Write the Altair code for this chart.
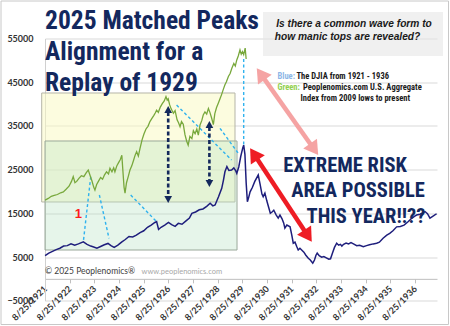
import math
import altair as alt
import pandas as pd

# ---------------- data ----------------
blue_year = [1921.65, 1921.80, 1921.95, 1922.10, 1922.25, 1922.40, 1922.55, 1922.70, 1922.85, 1923.00,
             1923.20, 1923.35, 1923.50, 1923.62, 1923.75, 1923.90, 1924.05, 1924.20, 1924.32, 1924.45,
             1924.60, 1924.75, 1924.90, 1925.05, 1925.20, 1925.35, 1925.50, 1925.65, 1925.80, 1925.95,
             1926.10, 1926.17, 1926.25, 1926.35, 1926.50, 1926.65, 1926.78, 1926.92, 1927.05, 1927.20,
             1927.35, 1927.50, 1927.60, 1927.75, 1927.90, 1928.05, 1928.20, 1928.34, 1928.45, 1928.54,
             1928.68, 1928.81, 1928.88, 1928.94, 1929.02, 1929.10, 1929.21, 1929.30, 1929.38, 1929.42,
             1929.50, 1929.58, 1929.66, 1929.70, 1929.75, 1929.80, 1929.85, 1929.90, 1929.96, 1930.05,
             1930.15, 1930.29, 1930.36, 1930.44, 1930.49, 1930.56, 1930.64, 1930.72, 1930.78, 1930.85,
             1930.92, 1931.02, 1931.10, 1931.17, 1931.25, 1931.32, 1931.37, 1931.45, 1931.52, 1931.58,
             1931.65, 1931.71, 1931.78, 1931.85, 1931.91, 1931.98, 1932.05, 1932.14, 1932.22, 1932.32,
             1932.40, 1932.50, 1932.57, 1932.63, 1932.68, 1932.76, 1932.86, 1932.95, 1933.05, 1933.15,
             1933.22, 1933.30, 1933.38, 1933.47, 1933.55, 1933.62, 1933.68, 1933.75, 1933.85, 1933.95,
             1934.05, 1934.15, 1934.28, 1934.40, 1934.55, 1934.68, 1934.80, 1934.95, 1935.09, 1935.20,
             1935.35, 1935.50, 1935.62, 1935.75, 1935.90, 1936.05, 1936.20, 1936.35, 1936.50, 1936.62,
             1936.71, 1936.85, 1936.95, 1937.05, 1937.15, 1937.25, 1937.33, 1937.42, 1937.52]
blue_value = [5300, 5900, 6300, 6700, 7000, 7500, 7600, 8000, 7700, 8000,
              8450, 7900, 7500, 7300, 7000, 7400, 7800, 8100, 7600, 7200,
              7700, 8400, 9000, 9700, 9600, 10000, 10600, 11000, 11800, 12300,
              12900, 13100, 11300, 11800, 12300, 12900, 12400, 12000, 12700, 12500,
              13200, 13900, 15000, 15300, 15800, 16000, 16600, 17300, 16700, 16900,
              18800, 20700, 22600, 24500, 25700, 24800, 24900, 25400, 24700, 24150,
              25600, 28000, 29900, 30600, 28500, 22000, 17650, 18600, 19900, 20900,
              22300, 23760, 21800, 19400, 18800, 19600, 17800, 16200, 15000, 15300,
              15700, 14600, 13900, 14600, 13800, 12800, 11600, 12300, 12100, 11900,
              10000, 8150, 8400, 7400, 6600, 7000, 6600, 6100, 5400, 4700,
              4300, 3600, 4300, 5400, 5900, 5300, 4950, 5100, 4800, 4500,
              4600, 5900, 7200, 8150, 7700, 7900, 7500, 7900, 8200, 8000,
              8300, 8000, 7600, 7700, 7350, 7600, 7800, 8000, 8150, 8400,
              9300, 10000, 10400, 11000, 11900, 12000, 12300, 13000, 13800, 14300,
              14600, 14800, 15100, 15400, 14900, 13900, 14200, 14500, 14900]

green_year = [1921.65, 1921.78, 1921.90, 1922.02, 1922.15, 1922.28, 1922.39, 1922.50, 1922.62, 1922.72,
              1922.79, 1922.86, 1922.93, 1923.02, 1923.12, 1923.22, 1923.32, 1923.40, 1923.47, 1923.55,
              1923.62, 1923.67, 1923.74, 1923.81, 1923.90, 1923.98, 1924.06, 1924.14, 1924.22, 1924.28,
              1924.36, 1924.43, 1924.48, 1924.56, 1924.64, 1924.70, 1924.76, 1924.80, 1924.85, 1924.89,
              1924.95, 1925.02, 1925.09, 1925.16, 1925.24, 1925.30, 1925.36, 1925.43, 1925.50, 1925.58,
              1925.66, 1925.74, 1925.82, 1925.90, 1925.98, 1926.06, 1926.12, 1926.17, 1926.24, 1926.32,
              1926.40, 1926.48, 1926.55, 1926.60, 1926.64, 1926.70, 1926.76, 1926.85, 1926.92, 1927.00,
              1927.06, 1927.12, 1927.18, 1927.25, 1927.32, 1927.39, 1927.45, 1927.52, 1927.60, 1927.66,
              1927.73, 1927.80, 1927.86, 1927.93, 1928.00, 1928.06, 1928.13, 1928.20, 1928.27, 1928.33,
              1928.40, 1928.47, 1928.53, 1928.60, 1928.67, 1928.74, 1928.80, 1928.87, 1928.94, 1929.00,
              1929.08, 1929.15, 1929.22, 1929.30, 1929.36, 1929.42, 1929.48, 1929.55, 1929.60, 1929.65,
              1929.70, 1929.76, 1929.80]
green_value = [18000, 18400, 18900, 19100, 19300, 19700, 19900, 20500, 21200, 22300,
               23400, 22000, 22300, 23000, 23600, 23400, 24300, 24900, 23700, 22400,
               21000, 20300, 21600, 22300, 23200, 22800, 23800, 24500, 24000, 25300,
               24500, 25400, 24500, 25900, 26700, 27300, 28300, 25000, 21000, 19600,
               22000, 23400, 24900, 25800, 27200, 28300, 29100, 28100, 29900, 31800,
               33200, 34300, 34900, 36000, 36700, 37400, 38000, 38600, 38100, 39300,
               40100, 40700, 41700, 40900, 41200, 39800, 38900, 37900, 38500, 36400,
               35700, 34800, 36000, 35400, 33000, 31500, 30600, 32600, 32100, 33900,
               33200, 34300, 32900, 35200, 36200, 37500, 38200, 37700, 39000, 38100,
               36800, 35300, 37800, 39200, 40200, 41200, 42100, 43300, 44400, 45100,
               46300, 47000, 48200, 49300, 48700, 50100, 51000, 52400, 51400, 52000,
               51300, 52800, 50300]

tick_years = list(range(1921, 1937))
y_ticks = [-5000, 5000, 15000, 25000, 35000, 45000, 55000]

# annotation anchors (data units)
rect_x1 = [1921.512, 1921.646]
rect_x2 = [1929.348, 1929.430]
rect_y1 = [17590, 6600]
rect_y2 = [42530, 31545]

link_x1 = [1923.50, 1923.85, 1925.12, 1926.98, 1928.74, 1929.70]
link_y1 = [23370, 19190, 19190, 39780, 34450, 50300]
link_x2 = [1923.20, 1924.24, 1926.17, 1929.21, 1929.48, 1929.70]
link_y2 = [8500, 9280, 13080, 27200, 28730, 30600]

peak_arrow_x = [1926.64, 1928.31]
peak_arrow_top = [39550, 36120]
peak_arrow_bottom = [17360, 21020]

big_x1 = [1930.23, 1929.96]
big_y1 = [48180, 29880]
big_x2 = [1932.72, 1932.46]
big_y2 = [28340, 8500]
big_colors = ["#f5a3a3", "#ee1c24"]

# ---------------- geometry ----------------
X0, X1 = 1921.646, 1937.536
Y0, Y1 = -5000, 55000
W, H = 392, 262.2
PX = W / (X1 - X0)
PY = H / (Y1 - Y0)
LEFT, TOP = 45, 38.5

xs = alt.Scale(domain=[X0, X1], nice=False, zero=False)
ys = alt.Scale(domain=[Y0, Y1], nice=False, zero=False)

xaxis = alt.Axis(values=[y + 0.646 for y in tick_years],
                 labelExpr="'8/25/' + floor(datum.value)",
                 labelAngle=-45, labelAlign="right", labelBaseline="middle",
                 labelFont="Lato", labelFontSize=9, labelFontWeight="bold", labelColor="#333333",
                 labelPadding=4, tickSize=4, tickColor="#bfbfbf", domainColor="#bfbfbf",
                 grid=False, title=None, offset=-(0 - Y0) * PY, labelOverlap=False)
yaxis = alt.Axis(values=y_ticks, format="d", labelFont="Lato", labelFontSize=9,
                 labelFontWeight="bold", labelColor="#333333", labelPadding=12, tickSize=0,
                 domainColor="#d0d0d0", gridColor="#d9d9d9", title=None)


def X(f, **k):
    return alt.X(f, type="quantitative", scale=xs, axis=xaxis, **k)


def Y(f, **k):
    return alt.Y(f, type="quantitative", scale=ys, axis=yaxis, **k)


HEAD = "M0,0L0.6,1L-0.6,1Z"
NHEAD = "M0,0L0.55,1L-0.55,1Z"

# background rectangles
rects = pd.DataFrame({"x": rect_x1, "x2": rect_x2, "y": rect_y1, "y2": rect_y2,
                      "fill": ["#f9f9c0", "#b8e2c3"], "op": [0.5, 0.35],
                      "stroke": ["#b5b5a8", "#9aa89a"]})
rect_layer = alt.Chart(rects).mark_rect(strokeWidth=1).encode(
    x=X("x"), x2="x2", y=Y("y"), y2="y2",
    fill=alt.Fill("fill:N", scale=None), stroke=alt.Stroke("stroke:N", scale=None),
    fillOpacity=alt.FillOpacity("op:Q", scale=None))

links = pd.DataFrame({"x": link_x1, "y": link_y1, "x2": link_x2, "y2": link_y2})
link_layer = alt.Chart(links).mark_rule(color="#2fb2ee", strokeWidth=1.4, strokeDash=[3, 2.5]).encode(
    x=X("x"), x2="x2", y=Y("y"), y2="y2")

green_df = pd.DataFrame({"x": green_year, "v": green_value})
green_layer = alt.Chart(green_df).mark_line(color="#78a83c", strokeWidth=1.3).encode(x=X("x"), y=Y("v"))

blue_df = pd.DataFrame({"x": blue_year, "v": blue_value})
blue_layer = alt.Chart(blue_df).mark_line(color="#1e1e7c", strokeWidth=1.5).encode(x=X("x"), y=Y("v"))

# navy dashed double arrows
NH = 7
shaft = pd.DataFrame({"x": peak_arrow_x,
                      "y": [t - (NH - 1) / PY for t in peak_arrow_top],
                      "y2": [b + (NH - 1) / PY for b in peak_arrow_bottom]})
shaft_layer = alt.Chart(shaft).mark_rule(color="#14295c", strokeWidth=2.6, strokeDash=[4, 2.5]).encode(
    x=X("x"), y=Y("y"), y2="y2")
nheads = pd.DataFrame({"x": peak_arrow_x * 2,
                       "y": peak_arrow_top + peak_arrow_bottom,
                       "a": [0, 0, 180, 180]})
nhead_layer = alt.Chart(nheads).mark_point(shape=NHEAD, filled=True, color="#14295c", opacity=1,
                                           size=(2 * NH) ** 2, strokeWidth=0).encode(
    x=X("x"), y=Y("y"), angle=alt.Angle("a:Q", scale=None))

# big pink / red double arrows
BH = 14
brow, hrow = [], []
for i in range(2):
    dx = (big_x2[i] - big_x1[i]) * PX
    dy = -(big_y2[i] - big_y1[i]) * PY
    ln = math.hypot(dx, dy)
    ux, uy = dx / ln, dy / ln
    ang = math.degrees(math.atan2(dx, -dy)) % 360
    cut = BH - 2
    brow.append({"x": big_x1[i] + ux * cut / PX, "y": big_y1[i] - uy * cut / PY,
                 "x2": big_x2[i] - ux * cut / PX, "y2": big_y2[i] + uy * cut / PY,
                 "c": big_colors[i]})
    hrow.append({"x": big_x2[i], "y": big_y2[i], "a": ang, "c": big_colors[i]})
    hrow.append({"x": big_x1[i], "y": big_y1[i], "a": (ang + 180) % 360, "c": big_colors[i]})
bshaft_layer = alt.Chart(pd.DataFrame(brow)).mark_rule(strokeWidth=4.5).encode(
    x=X("x"), x2="x2", y=Y("y"), y2="y2", color=alt.Color("c:N", scale=None))
bhead_layer = alt.Chart(pd.DataFrame(hrow)).mark_point(shape=HEAD, filled=True, opacity=1,
                                                        size=(2 * BH) ** 2, strokeWidth=0).encode(
    x=X("x"), y=Y("y"), angle=alt.Angle("a:Q", scale=None), color=alt.Color("c:N", scale=None))


# ---------------- text (pixel positions on the page) ----------------
def txt(s, px, py, size, color, font, weight="normal", align="left", style="normal"):
    return alt.Chart(pd.DataFrame({"t": [s]})).mark_text(
        align=align, baseline="alphabetic", font=font, fontSize=size, fontWeight=weight,
        fontStyle=style, color=color).encode(
        text="t:N", x=alt.value(px - LEFT), y=alt.value(py - TOP))


NARROW = "Roboto Condensed"
NAVY = "#13285e"

box = alt.Chart(pd.DataFrame({"k": [0]})).mark_rect(color="#e6e6e6", opacity=0.6).encode(
    x=alt.value(263 - LEFT), x2=alt.value(443 - LEFT), y=alt.value(12 - TOP), y2=alt.value(56 - TOP))
frame = alt.Chart(pd.DataFrame({"k": [0]})).mark_rect(fill=None, stroke="#c8c8c8", strokeWidth=1).encode(
    x=alt.value(1 - LEFT), x2=alt.value(448.5 - LEFT), y=alt.value(1 - TOP), y2=alt.value(324.5 - TOP))

texts = [
    txt("2025 Matched Peaks", 45, 28.5, 25.5, NAVY, NARROW, "bold"),
    txt("Alignment for a", 45, 59.5, 25.5, NAVY, NARROW, "bold"),
    txt("Replay of 1929", 45, 91, 25.5, NAVY, NARROW, "bold"),
    txt("Is there a common wave form to", 354, 26.8, 10.2, "#1a1a1a", "Liberation Sans", "bold", "center", "italic"),
    txt("how manic tops are revealed?", 347.5, 40, 10.2, "#1a1a1a", "Liberation Sans", "bold", "center", "italic"),
    txt("Blue:", 277.5, 78.6, 8.5, "#8db6e6", NARROW, "bold"),
    txt("The DJIA from 1921 - 1936", 296.5, 78.6, 8.5, "#1a1a1a", NARROW, "bold"),
    txt("Green:", 277.5, 90.3, 8.5, "#92d050", NARROW, "bold"),
    txt("Peoplenomics.com  U.S. Aggregate", 303, 90.3, 8.5, "#1a1a1a", NARROW, "bold"),
    txt("Index from 2009 lows to present", 300.5, 100.5, 8.5, "#1a1a1a", NARROW, "bold"),
    txt("EXTREME RISK", 345, 171.5, 20.5, NAVY, NARROW, "bold", "center"),
    txt("AREA POSSIBLE", 358, 197, 20.5, NAVY, NARROW, "bold", "center"),
    txt("THIS YEAR!!??", 366, 223, 20.5, NAVY, NARROW, "bold", "center"),
    txt("1", 78.3, 218, 13, "#ff1a1a", "Liberation Sans", "bold", "center"),
    txt("\u00a9 2025 Peoplenomics\u00ae", 45, 274, 8.5, "#404040", "Lato"),
    txt("www.peoplenomics.com", 141.5, 274, 7.5, "#a8a8a8", "Lato"),
]

chart = alt.layer(
    rect_layer, box, link_layer, green_layer, blue_layer,
    shaft_layer, nhead_layer, bshaft_layer, bhead_layer, *texts, frame
).properties(
    width=W, height=H,
    autosize=alt.AutoSizeParams(type="none"),
    padding={"left": LEFT, "top": TOP, "right": 450 - LEFT - W, "bottom": 326 - TOP - H},
    background="white",
).configure_view(stroke=None)

chart.save("out.html", embed_options={"renderer": "svg", "actions": False})
